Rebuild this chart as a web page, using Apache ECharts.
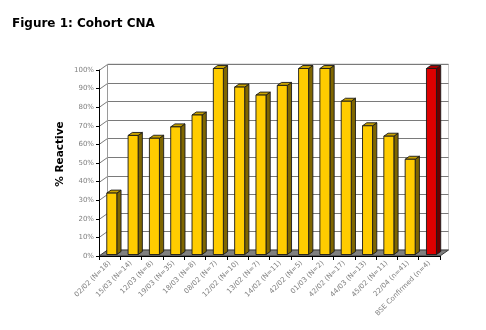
<!DOCTYPE html>
<html>
<head>
<meta charset="utf-8">
<script src="https://cdn.jsdelivr.net/npm/echarts@6/dist/echarts.min.js"></script>
<style>
  html, body { margin: 0; padding: 0; background: #ffffff; }
  #chart { width: 486px; height: 330px; }
</style>
</head>
<body>
<div id="chart"></div>
<script>
// Groups tested and the share of each that was reactive (%)
const groups = [
  '02/02 (N=18)', '15/03 (N=14)', '12/03 (N=8)', '19/03 (N=35)', '18/03 (N=8)',
  '08/02 (N=7)', '12/02 (N=10)', '13/02 (N=7)', '14/02 (N=11)', '42/02 (N=5)',
  '01/03 (N=2)', '42/02 (N=17)', '44/03 (N=13)', '45/02 (N=11)', '22/04 (n=41)',
  'BSE Confirmed (n=4)'
];
const reactive = [33, 64, 62.5, 68.6, 75, 100, 90, 85.7, 90.9, 100, 100, 82.4, 69.2, 63.6, 51.2, 100];
const groupKind = [
  'cohort', 'cohort', 'cohort', 'cohort', 'cohort', 'cohort', 'cohort', 'cohort',
  'cohort', 'cohort', 'cohort', 'cohort', 'cohort', 'cohort', 'cohort', 'confirmed'
];
const yTicks = [0, 10, 20, 30, 40, 50, 60, 70, 80, 90, 100];

// Pseudo-3D depth of the plot box (pixels) and bar palettes
const DX = 8.5, DY = -6;
const palette = {
  cohort:    { front: '#FFCC00', top: '#C9A200', side: '#7F6600' },
  confirmed: { front: '#DD0000', top: '#A80000', side: '#6A0000' }
};
const FONT = 'DejaVu Sans';

const chart = echarts.init(document.getElementById('chart'), null, { renderer: 'canvas' });

// Walls and floor of the box
function renderWalls(params, api) {
  const cs = params.coordSys;
  const xL = cs.x, xR = cs.x + cs.width;
  const y0 = api.coord([0, 0])[1];
  const children = [];
  // back wall
  const yTop = api.coord([0, yTicks[yTicks.length - 1]])[1];
  children.push({
    type: 'polygon',
    shape: { points: [[xL + DX, yTop + DY], [xR + DX, yTop + DY], [xR + DX, y0 + DY], [xL + DX, y0 + DY]] },
    style: { fill: '#ffffff', stroke: '#c8c8c8', lineWidth: 1 }
  });
  // grid lines across left wall and back wall
  yTicks.forEach(function (t) {
    if (t === 0) return;
    const y = Math.round(api.coord([0, t])[1]) + 0.5;
    children.push({
      type: 'polyline',
      shape: { points: [[xL, y], [xL + DX, y + DY], [xR + DX, y + DY]] },
      style: { stroke: '#7a7a7a', lineWidth: 1, fill: null }
    });
  });
  // back edge of left wall
  children.push({
    type: 'line',
    shape: { x1: xL + DX, y1: yTop + DY, x2: xL + DX, y2: y0 + DY },
    style: { stroke: '#9a9a9a', lineWidth: 1 }
  });
  // floor
  children.push({
    type: 'polygon',
    shape: { points: [[xL, y0], [xR, y0], [xR + DX, y0 + DY], [xL + DX, y0 + DY]] },
    style: { fill: '#808080', stroke: '#3a3a3a', lineWidth: 1 }
  });
  return { type: 'group', children: children };
}

// A column drawn as front, top and side faces
function renderBar(params, api) {
  const i = api.value(0), v = api.value(1);
  const kind = groupKind[i];
  const col = palette[kind];
  const base = api.coord([i, 0]);
  const top = api.coord([i, v]);
  const band = api.size([1, 0])[0];
  const w = band * 0.47;
  const fx = DX * 0.25, fy = DY * 0.25;
  const dx = DX * 0.5, dy = DY * 0.5;
  const x0 = base[0] - w / 2 + fx, x1 = base[0] + w / 2 + fx;
  const yb = base[1] + fy, yt = top[1] + fy;
  const stroke = { stroke: '#1a1a1a', lineWidth: 0.9, lineJoin: 'round' };
  return {
    type: 'group',
    children: [
      { type: 'polygon', shape: { points: [[x1, yt], [x1 + dx, yt + dy], [x1 + dx, yb + dy], [x1, yb]] },
        style: Object.assign({ fill: col.side }, stroke) },
      { type: 'polygon', shape: { points: [[x0, yt], [x1, yt], [x1 + dx, yt + dy], [x0 + dx, yt + dy]] },
        style: Object.assign({ fill: col.top }, stroke) },
      { type: 'rect', shape: { x: x0, y: yt, width: x1 - x0, height: yb - yt },
        style: Object.assign({ fill: col.front }, stroke) }
    ]
  };
}

chart.setOption({
  animation: false,
  backgroundColor: '#ffffff',
  title: {
    text: 'Figure 1: Cohort CNA',
    left: 12, top: 18, padding: 0,
    textStyle: { fontFamily: FONT, fontSize: 12, fontWeight: 'bold', color: '#000000' }
  },
  graphic: [{
    type: 'text',
    x: 60, y: 154, rotation: Math.PI / 2,
    style: {
      text: '% Reactive', fontFamily: FONT, fontSize: 10.5, fontWeight: 'bold',
      fill: '#000000', align: 'center', verticalAlign: 'middle'
    }
  }],
  grid: { left: 99, right: 46, top: 70, bottom: 74 },
  xAxis: {
    type: 'category',
    data: groups,
    z: 10,
    axisLine: { show: true, lineStyle: { color: '#000000', width: 1 } },
    axisTick: { show: true, interval: 0, length: 4, lineStyle: { color: '#000000' } },
    axisLabel: {
      interval: 0, rotate: 45, margin: 6,
      fontFamily: FONT, fontSize: 7, color: '#808080'
    },
    splitLine: { show: false }
  },
  yAxis: {
    type: 'value',
    min: 0, max: 100, interval: 10,
    z: 10,
    axisLine: { show: true, lineStyle: { color: '#000000', width: 1 } },
    axisTick: { show: true, length: 3, lineStyle: { color: '#000000' } },
    axisLabel: {
      formatter: '{value}%', margin: 5,
      fontFamily: FONT, fontSize: 7, color: '#808080'
    },
    splitLine: { show: false }
  },
  series: [
    {
      type: 'custom',
      renderItem: renderWalls,
      data: [[0, 0]],
      z: 1,
      silent: true
    },
    {
      type: 'custom',
      renderItem: renderBar,
      data: reactive.map(function (v, i) { return [i, v]; }),
      encode: { x: 0, y: 1 },
      z: 2
    }
  ]
});
</script>
</body>
</html>
